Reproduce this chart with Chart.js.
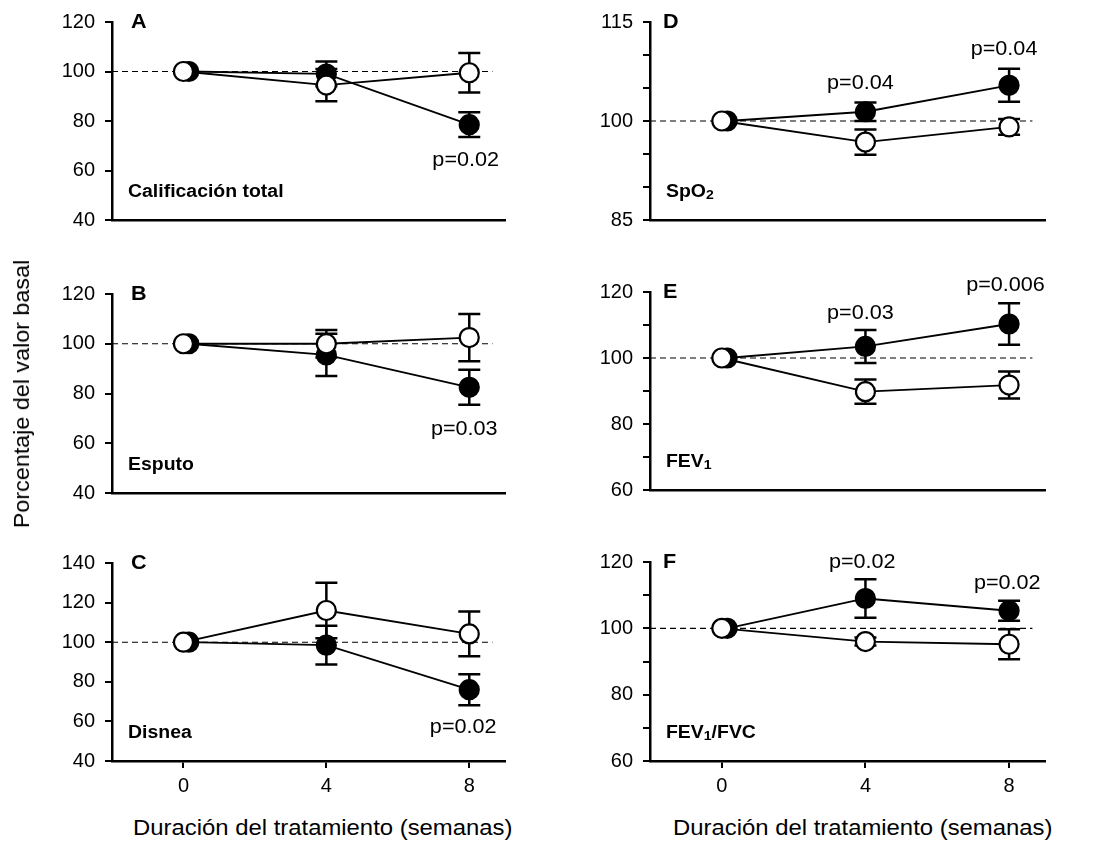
<!DOCTYPE html>
<html>
<head>
<meta charset="utf-8">
<script src="https://cdn.jsdelivr.net/npm/chart.js@4.4.0/dist/chart.umd.min.js"></script>
<style>
  body { margin: 0; background: #fff; width: 1096px; height: 842px; position: relative; overflow: hidden;
         font-family: "Liberation Sans", Arial, sans-serif; }
  .panel { position: absolute; }
  .xtitulo { position: absolute; top: 815px; font-size: 22px; color: #000; white-space: nowrap;
             transform: scaleX(1.085); transform-origin: left center; }
  .ytitulo { position: absolute; left: 22px; top: 394px; font-size: 22px; color: #000; white-space: nowrap;
             transform: translate(-50%, -50%) rotate(-90deg) scaleX(1.06); }
</style>
</head>
<body>
<div class="panel" style="left:0;top:0"><canvas id="chartA" width="520" height="250"></canvas></div>
<div class="panel" style="left:0;top:270px"><canvas id="chartB" width="520" height="253"></canvas></div>
<div class="panel" style="left:0;top:540px"><canvas id="chartC" width="520" height="261"></canvas></div>
<div class="panel" style="left:540px;top:0"><canvas id="chartD" width="556" height="250"></canvas></div>
<div class="panel" style="left:540px;top:270px"><canvas id="chartE" width="556" height="250"></canvas></div>
<div class="panel" style="left:540px;top:540px"><canvas id="chartF" width="556" height="261"></canvas></div>
<div class="ytitulo">Porcentaje del valor basal</div>
<div class="xtitulo" style="left:133px">Duración del tratamiento (semanas)</div>
<div class="xtitulo" style="left:673px">Duración del tratamiento (semanas)</div>

<script>
// semanas de tratamiento
const semanas = [0, 4, 8];

// A - Calificación total
const totalLleno = [100, 99, 78.5];
const totalLlenoErr = [0, 5, 5];
const totalVacio = [100, 94.5, 99.5];
const totalVacioErr = [0, 6.5, 8];

// B - Esputo
const esputoLleno = [100, 95.5, 82.5];
const esputoLlenoErr = [0, 8.5, 7];
const esputoVacio = [100, 100, 102.5];
const esputoVacioErr = [0, 5.5, 9.5];

// C - Disnea
const disneaLleno = [100, 98.5, 76];
const disneaLlenoErr = [0, 9.8, 7.8];
const disneaVacio = [100, 116, 104.2];
const disneaVacioErr = [0, 14, 11.3];

// D - SpO2
const spo2Lleno = [100, 101.4, 105.4];
const spo2LlenoErr = [0, 1.4, 2.5];
const spo2Vacio = [100, 96.8, 99.1];
const spo2VacioErr = [0, 1.9, 1.2];

// E - FEV1
const fev1Lleno = [100, 103.5, 110.3];
const fev1LlenoErr = [0, 5, 6.3];
const fev1Vacio = [100, 89.8, 91.8];
const fev1VacioErr = [0, 3.7, 4.1];

// F - FEV1/FVC
const fevFvcLleno = [100, 109, 105.3];
const fevFvcLlenoErr = [0, 5.8, 3];
const fevFvcVacio = [100, 96, 95.2];
const fevFvcVacioErr = [0, 1.2, 4.5];

// ticks del eje y
const ticks40a120 = [40, 60, 80, 100, 120];
const ticks40a140 = [40, 60, 80, 100, 120, 140];
const ticks85a115 = [85, 90, 95, 100, 105, 110, 115];
const etiquetas85a115 = [85, 100, 115];
const ticks60a120 = [60, 70, 80, 90, 100, 110, 120];
const etiquetas60a120 = [60, 80, 100, 120];

const FAM = '"Liberation Sans", Arial, sans-serif';
const ESTIRA = 1.08; // el original está algo estirado a lo ancho

// barras de error (media ± error)
const barrasError = {
    id: 'barrasError',
    beforeDatasetsDraw(chart) {
        const ctx = chart.ctx;
        const xs = chart.scales.x, ys = chart.scales.y;
        chart.data.datasets.forEach(ds => {
            if (!ds.err) return;
            ctx.save();
            ctx.strokeStyle = '#000';
            ctx.lineWidth = 2.5;
            ds.data.forEach((p, i) => {
                const e = ds.err[i];
                if (!e) return;
                const px = xs.getPixelForValue(p.x);
                const arriba = ys.getPixelForValue(p.y + e);
                const abajo = ys.getPixelForValue(p.y - e);
                ctx.beginPath();
                ctx.moveTo(px, arriba); ctx.lineTo(px, abajo);
                ctx.moveTo(px - 11, arriba); ctx.lineTo(px + 11, arriba);
                ctx.moveTo(px - 11, abajo); ctx.lineTo(px + 11, abajo);
                ctx.stroke();
            });
            ctx.restore();
        });
    }
};

// texto estirado horizontalmente
function texto(ctx, t, x, y, align) {
    const w = ctx.measureText(t).width * ESTIRA;
    let x0 = x;
    if (align === 'center') x0 = x - w / 2;
    ctx.save();
    ctx.translate(x0, y);
    ctx.scale(ESTIRA, 1);
    ctx.textAlign = 'left';
    ctx.fillText(t, 0, 0);
    ctx.restore();
    return w;
}

// letra del panel, nombre de la variable y valores p
const textos = {
    id: 'textos',
    afterDraw(chart, args, opts) {
        const ctx = chart.ctx, a = chart.chartArea;
        const xs = chart.scales.x, ys = chart.scales.y;
        ctx.save();
        ctx.fillStyle = '#000';
        ctx.textBaseline = 'middle';
        ctx.font = 'bold 20px ' + FAM;
        texto(ctx, opts.letra, a.left + opts.letraDx, a.top, 'left');

        let x = a.left + 16;
        const y = a.bottom - 28;
        opts.nombre.forEach(([t, sub]) => {
            ctx.font = sub ? 'bold 13px ' + FAM : 'bold 18px ' + FAM;
            x += texto(ctx, t, x, sub ? y + 3 : y, 'left');
        });

        ctx.font = '20px ' + FAM;
        opts.pvals.forEach(p => {
            texto(ctx, p.texto, xs.getPixelForValue(p.x), ys.getPixelForValue(p.y), 'center');
        });
        ctx.restore();
    }
};

function puntos(vals, desp) {
    return semanas.map((s, i) => ({ x: s === 0 ? s + desp : s, y: vals[i] }));
}

function crearPanel(id, c) {
    const ctx = document.getElementById(id).getContext('2d');
    new Chart(ctx, {
        type: 'line',
        data: {
            datasets: [{
                data: puntos(c.vacio, 0),
                err: c.vacioErr,
                borderColor: '#000',
                borderWidth: 1.8,
                pointRadius: 9.5,
                pointBorderWidth: 2.2,
                pointBackgroundColor: '#fff',
                pointBorderColor: '#000',
                order: 0
            }, {
                data: puntos(c.lleno, 0.15),
                err: c.llenoErr,
                borderColor: '#000',
                borderWidth: 1.8,
                pointRadius: 9.5,
                pointBorderWidth: 2.2,
                pointBackgroundColor: '#000',
                pointBorderColor: '#000',
                order: 1
            }, {
                // línea de referencia 100 %
                data: [{ x: -2, y: 100 }, { x: 8.65, y: 100 }],
                borderColor: '#000',
                borderWidth: 1.1,
                borderDash: [6, 4],
                pointRadius: 0,
                order: 2
            }]
        },
        options: {
            responsive: false,
            animation: false,
            events: [],
            layout: { padding: { top: c.padTop, right: c.padRight, left: 0, bottom: 0 } },
            scales: {
                x: {
                    type: 'linear',
                    min: -2,
                    max: 9,
                    afterBuildTicks: s => { s.ticks = semanas.map(v => ({ value: v })); },
                    afterFit: s => { s.height = c.conX ? 40 : 30; },
                    border: { color: '#000', width: 2.5 },
                    grid: { drawOnChartArea: false, drawTicks: c.conX, tickLength: 7, color: '#000', lineWidth: 2 },
                    ticks: { display: c.conX, color: '#000', padding: 6, font: { size: 20, family: FAM } }
                },
                y: {
                    min: c.yMin,
                    max: c.yMax,
                    afterBuildTicks: s => { s.ticks = c.yTicks.map(v => ({ value: v })); },
                    afterFit: s => { s.width = c.yAncho; },
                    border: { color: '#000', width: 2.5 },
                    grid: { drawOnChartArea: false, tickLength: 7, color: '#000', lineWidth: 2 },
                    ticks: {
                        color: '#000',
                        padding: 10,
                        font: { size: 20, family: FAM },
                        callback: v => c.yEtiquetas.includes(v) ? v : ''
                    }
                }
            },
            plugins: {
                legend: { display: false },
                tooltip: { enabled: false },
                textos: { letra: c.letra, letraDx: c.letraDx, nombre: c.nombre, pvals: c.pvals }
            }
        },
        plugins: [barrasError, textos]
    });
}

const izq = { yAncho: 112, padRight: 15, letraDx: 19 };
const der = { yAncho: 110, padRight: 51, letraDx: 13 };

crearPanel('chartA', Object.assign({}, izq, {
    padTop: 22, conX: false, yMin: 40, yMax: 120, yTicks: ticks40a120, yEtiquetas: ticks40a120,
    lleno: totalLleno, llenoErr: totalLlenoErr, vacio: totalVacio, vacioErr: totalVacioErr,
    letra: 'A', nombre: [['Calificación total', false]],
    pvals: [{ texto: 'p=0.02', x: 7.9, y: 64 }]
}));
crearPanel('chartB', Object.assign({}, izq, {
    padTop: 24, conX: false, yMin: 40, yMax: 120, yTicks: ticks40a120, yEtiquetas: ticks40a120,
    lleno: esputoLleno, llenoErr: esputoLlenoErr, vacio: esputoVacio, vacioErr: esputoVacioErr,
    letra: 'B', nombre: [['Esputo', false]],
    pvals: [{ texto: 'p=0.03', x: 7.86, y: 65.7 }]
}));
crearPanel('chartC', Object.assign({}, izq, {
    padTop: 23, conX: true, yMin: 40, yMax: 140, yTicks: ticks40a140, yEtiquetas: ticks40a140,
    lleno: disneaLleno, llenoErr: disneaLlenoErr, vacio: disneaVacio, vacioErr: disneaVacioErr,
    letra: 'C', nombre: [['Disnea', false]],
    pvals: [{ texto: 'p=0.02', x: 7.83, y: 56.8 }]
}));
crearPanel('chartD', Object.assign({}, der, {
    padTop: 22, conX: false, yMin: 85, yMax: 115, yTicks: ticks85a115, yEtiquetas: etiquetas85a115,
    lleno: spo2Lleno, llenoErr: spo2LlenoErr, vacio: spo2Vacio, vacioErr: spo2VacioErr,
    letra: 'D', nombre: [['SpO', false], ['2', true]],
    pvals: [{ texto: 'p=0.04', x: 3.86, y: 105.7 }, { texto: 'p=0.04', x: 7.86, y: 110.9 }]
}));
crearPanel('chartE', Object.assign({}, der, {
    padTop: 21, conX: false, yMin: 60, yMax: 120, yTicks: ticks60a120, yEtiquetas: etiquetas60a120,
    lleno: fev1Lleno, llenoErr: fev1LlenoErr, vacio: fev1Vacio, vacioErr: fev1VacioErr,
    letra: 'E', nombre: [['FEV', false], ['1', true]],
    pvals: [{ texto: 'p=0.03', x: 3.86, y: 113.6 }, { texto: 'p=0.006', x: 7.9, y: 121.9 }]
}));
crearPanel('chartF', Object.assign({}, der, {
    padTop: 20, conX: true, yMin: 60, yMax: 120, yTicks: ticks60a120, yEtiquetas: etiquetas60a120,
    lleno: fevFvcLleno, llenoErr: fevFvcLlenoErr, vacio: fevFvcVacio, vacioErr: fevFvcVacioErr,
    letra: 'F', nombre: [['FEV', false], ['1', true], ['/FVC', false]],
    pvals: [{ texto: 'p=0.02', x: 3.91, y: 119.9 }, { texto: 'p=0.02', x: 7.95, y: 113.6 }]
}));
</script>
</body>
</html>
